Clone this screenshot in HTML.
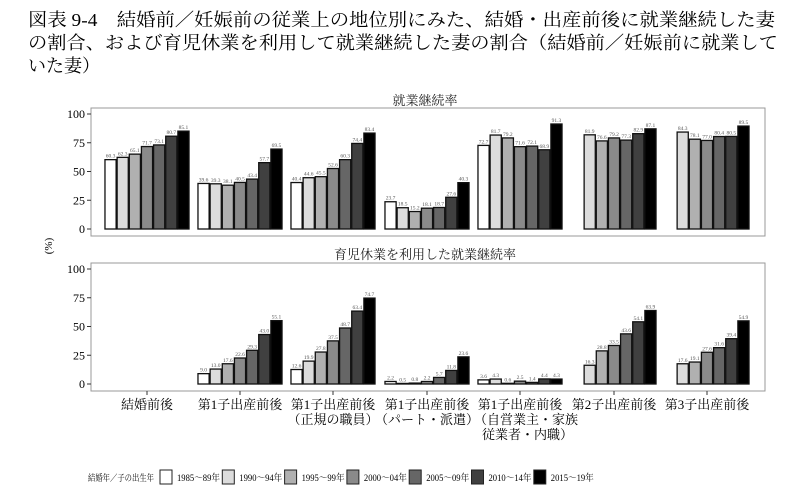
<!DOCTYPE html>
<html><head><meta charset="utf-8"><style>
body{margin:0;background:#fff;width:800px;height:492px;overflow:hidden}
svg{display:block}
text{font-family:"Liberation Serif","Noto Serif CJK SC","Noto Sans CJK JP",serif}
</style></head><body>
<svg id="s" width="800" height="492" xmlns="http://www.w3.org/2000/svg">
<text x="28" y="26" font-size="18" textLength="747" lengthAdjust="spacingAndGlyphs">図表 9-4　結婚前／妊娠前の従業上の地位別にみた、結婚・出産前後に就業継続した妻</text>
<text x="28" y="49" font-size="18" textLength="750" lengthAdjust="spacingAndGlyphs">の割合、および育児休業を利用して就業継続した妻の割合（結婚前／妊娠前に就業して</text>
<text x="28" y="72" font-size="18">いた妻）</text>
<text x="425" y="105" font-size="13" text-anchor="middle" fill="#222">就業継続率</text>
<text x="425" y="259" font-size="13" text-anchor="middle" fill="#222">育児休業を利用した就業継続率</text>
<text transform="translate(52,246) rotate(-90)" font-size="11" text-anchor="middle">(%)</text>
<g id="g"></g>
</svg>
<script>
var cols=["#ffffff","#dcdcdc","#b0b0b0","#8a8a8a","#666666","#404040","#000000"];
var top1=[[60.3,62.3,65.1,71.7,73.1,80.7,85.1],[39.6,39.3,38.1,40.5,43.4,57.7,69.5],[40.4,44.6,45.5,52.6,60.3,74.4,83.4],[23.7,18.5,15.2,18.1,18.7,27.6,40.3],[72.7,81.7,79.2,71.6,72.1,68.9,91.3],[null,81.9,76.6,79.2,77.3,82.9,87.1],[null,84.3,78.1,77.0,80.4,80.5,89.5]];
var bot=[[null,null,null,null,null,null,null],[9.0,13.0,17.6,22.6,29.3,43.0,55.1],[12.6,19.9,27.8,37.5,48.7,63.4,74.7],[2.2,0.5,0.8,2.2,5.7,11.8,23.6],[3.6,4.3,0.6,2.5,1.4,4.4,4.3],[null,16.3,28.8,33.5,43.6,54.1,63.9],[null,17.6,19.1,27.6,31.6,39.4,54.9]];
var centers=[147,240,333,427,520,614,707];
var bw=12.15,h="";
function panel(d,y0,y100,bx,by,bh){
 h+='<rect x="91" y="'+by+'" width="674" height="'+bh+'" fill="#fff" stroke="#999" stroke-width="1"/>';
 [0,25,50,75,100].forEach(function(v){var y=y0-(y0-y100)*v/100;
  h+='<line x1="87" x2="91" y1="'+y+'" y2="'+y+'" stroke="#333"/>';
  h+='<text x="85" y="'+(y+4)+'" font-size="12" text-anchor="end">'+v+'</text>';});
 var s=(y0-y100)/100;
 d.forEach(function(g,i){var x0=centers[i]-3.5*bw;
  g.forEach(function(v,j){if(v==null)return;var x=x0+j*bw,y=y0-v*s;
   h+='<rect x="'+(x+0.5)+'" y="'+y+'" width="'+(bw-1)+'" height="'+(v*s)+'" fill="'+cols[j]+'" stroke="#111" stroke-width="1.3"/>';
   h+='<text x="'+(x+bw/2)+'" y="'+(y-2)+'" font-size="5.5" fill="#555" text-anchor="middle">'+v.toFixed(1)+'</text>';});
 });
}
panel(top1,229,114,91,108,128);
panel(bot,384,269,91,263,128);
centers.forEach(function(c){h+='<line x1="'+c+'" x2="'+c+'" y1="391" y2="395" stroke="#333"/>';});
var labs=[["結婚前後"],["第1子出産前後"],["第1子出産前後","（正規の職員）"],["第1子出産前後","（パート・派遣）"],["第1子出産前後","（自営業主・家族","従業者・内職）"],["第2子出産前後"],["第3子出産前後"]];
labs.forEach(function(l,i){l.forEach(function(t,k){
 var x=centers[i];var anchor="middle";
 if(i==4&&k>0){x=centers[i]-46;anchor="start";if(k==2)x+=8;}
 h+='<text x="'+x+'" y="'+(409+k*15)+'" font-size="13" text-anchor="'+anchor+'">'+t+'</text>';});});
h+='<text x="88" y="481" font-size="9" textLength="66" lengthAdjust="spacingAndGlyphs">結婚年／子の出生年</text>';
var ll=["1985〜89年","1990〜94年","1995〜99年","2000〜04年","2005〜09年","2010〜14年","2015〜19年"];
ll.forEach(function(t,i){var x=160+i*62.3;
 h+='<rect x="'+x+'" y="470" width="12" height="14" fill="'+cols[i]+'" stroke="#222" stroke-width="1"/>';
 h+='<text x="'+(x+17)+'" y="481" font-size="9.5" textLength="43" lengthAdjust="spacingAndGlyphs">'+t+'</text>';});
document.getElementById("g").innerHTML=h;
</script>
</body></html>
